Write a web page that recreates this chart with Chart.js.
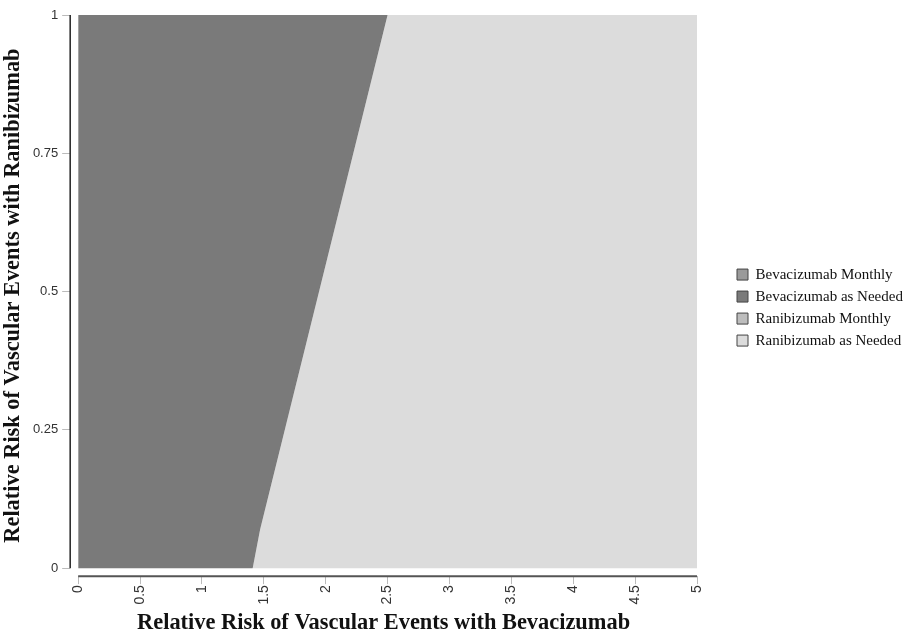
<!DOCTYPE html>
<html>
<head>
<meta charset="utf-8">
<script src="https://cdn.jsdelivr.net/npm/chart.js@4/dist/chart.umd.min.js"></script>
<style>
html,body{margin:0;padding:0;background:#fff;}
#wrap{width:911px;height:633px;}
</style>
</head>
<body>
<div id="wrap"><canvas id="c" width="911" height="633"></canvas></div>
<script>
// ---- data ----
const xTicks = [0, 0.5, 1, 1.5, 2, 2.5, 3, 3.5, 4, 4.5, 5];
const yTicks = [0, 0.25, 0.5, 0.75, 1];
const boundaryX = [0, 1.41, 1.47, 2.50, 5];   // decision boundary (RR Bevacizumab)
const boundaryY = [0, 0, 0.07, 1, 1];         // decision boundary (RR Ranibizumab)
const seriesNames = ['Bevacizumab Monthly', 'Bevacizumab as Needed', 'Ranibizumab Monthly', 'Ranibizumab as Needed'];
const seriesColors = ['#9a9a9a', '#7a7a7a', '#bdbdbd', '#dcdcdc'];
const xTitle = 'Relative Risk of Vascular Events with Bevacizumab';
const yTitle = 'Relative Risk of Vascular Events with Ranibizumab';

const boundary = boundaryX.map((x, i) => ({x: x, y: boundaryY[i]}));

const datasets = [
  {label: seriesNames[0], data: [], backgroundColor: seriesColors[0], borderWidth: 0, pointRadius: 0},
  {label: seriesNames[1], data: boundary, backgroundColor: seriesColors[1], borderColor: seriesColors[1], borderWidth: 0, pointRadius: 0, fill: {value: 1}},
  {label: seriesNames[2], data: [], backgroundColor: seriesColors[2], borderWidth: 0, pointRadius: 0},
  {label: seriesNames[3], data: boundary, backgroundColor: seriesColors[3], borderColor: seriesColors[3], borderWidth: 0, pointRadius: 0, fill: {value: 0}}
];

const axisLines = {
  id: 'axisLines',
  afterLayout(chart) {
    const lg = chart.legend;
    if (lg) { lg.left += 33; lg.right += 33; }
  },
  afterDraw(chart) {
    const ctx = chart.ctx, xs = chart.scales.x, ys = chart.scales.y, a = chart.chartArea;
    ctx.save();
    ctx.strokeStyle = '#555';
    ctx.lineWidth = 2;
    ctx.beginPath();
    ctx.moveTo(xs.getPixelForValue(xTicks[0]), a.bottom);
    ctx.lineTo(xs.getPixelForValue(xTicks[xTicks.length - 1]), a.bottom);
    ctx.stroke();
    ctx.strokeStyle = '#222';
    ctx.lineWidth = 1.5;
    ctx.beginPath();
    ctx.moveTo(a.left, ys.getPixelForValue(yTicks[0]));
    ctx.lineTo(a.left, ys.getPixelForValue(yTicks[yTicks.length - 1]));
    ctx.stroke();
    ctx.restore();
  }
};

new Chart(document.getElementById('c'), {
  type: 'line',
  data: {datasets: datasets},
  options: {
    responsive: false,
    animation: false,
    layout: {padding: {left: 0, right: 0, top: 15, bottom: 0}},
    plugins: {
      tooltip: {enabled: false},
      legend: {
        position: 'right',
        fullSize: false,
        title: {display: true, text: ' ', font: {size: 10}, padding: {top: 7, bottom: 5}},
        labels: {
          boxWidth: 11, boxHeight: 11, padding: 7,
          font: {family: 'Liberation Serif', size: 15},
          color: '#111',
          generateLabels(chart) {
            return chart.data.datasets.map((d, i) => ({
              text: d.label, fillStyle: d.backgroundColor, strokeStyle: '#444',
              lineWidth: 1, hidden: false, datasetIndex: i, fontColor: '#111'
            }));
          }
        }
      }
    },
    scales: {
      x: {
        type: 'linear',
        min: -0.0646, max: 5,
        afterBuildTicks(s) { s.ticks = xTicks.map(v => ({value: v})); },
        afterFit(s) { s.paddingRight = 214; },
        border: {display: false},
        grid: {drawOnChartArea: false, drawTicks: true, tickLength: 8, color: '#bbb'},
        ticks: {
          minRotation: 90, maxRotation: 90, autoSkip: false, padding: 1,
          font: {family: 'Liberation Sans', size: 14}, color: '#333',
          callback: v => String(v)
        },
        title: {display: true, text: xTitle, font: {family: 'Liberation Serif', size: 22.4, weight: 'bold', lineHeight: 1.0}, color: '#111', padding: {top: 6, bottom: -1}}
      },
      y: {
        type: 'linear',
        min: -0.0144, max: 1,
        afterBuildTicks(s) { s.ticks = yTicks.map(v => ({value: v})); },
        border: {display: false},
        grid: {drawOnChartArea: false, drawTicks: true, tickLength: 8, color: '#bbb'},
        ticks: {
          padding: 4, autoSkip: false,
          font: {family: 'Liberation Sans', size: 13}, color: '#333',
          callback: v => String(v)
        },
        title: {display: true, text: yTitle, font: {family: 'Liberation Serif', size: 22.4, weight: 'bold'}, color: '#111', padding: {top: 0, bottom: 2}}
      }
    }
  },
  plugins: [axisLines]
});
</script>
</body>
</html>
